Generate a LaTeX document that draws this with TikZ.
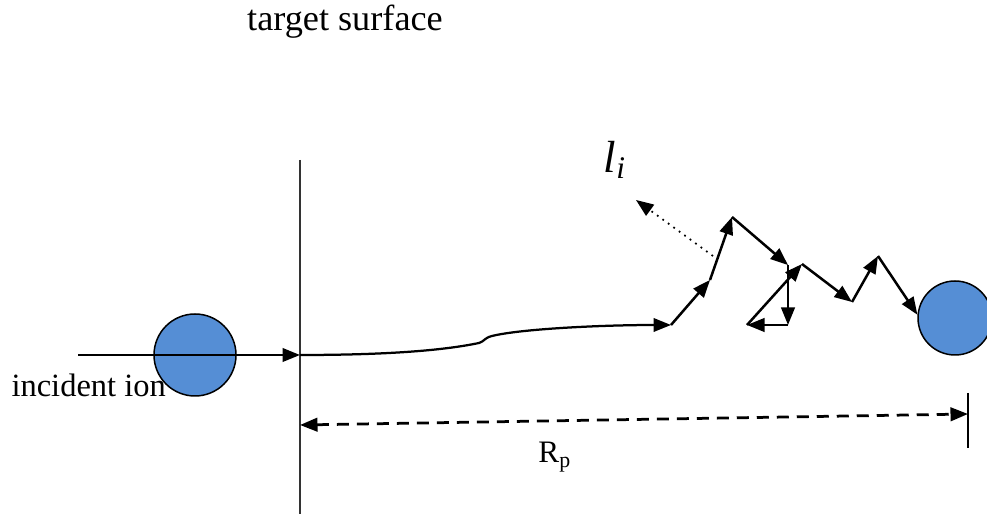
\documentclass[tikz,border=0pt]{standalone}
\usepackage{fontspec}
\setmainfont{Liberation Serif}
\usetikzlibrary{arrows.meta, positioning}
\definecolor{ionblue}{RGB}{85, 142, 213}

\begin{document}
\begin{tikzpicture}[
    x=0.4pt, y=-0.4pt,
    >={Triangle[length=7pt, width=5.4pt]},
    ion/.style={circle, draw=black, line width=0.6pt, fill=ionblue,
                minimum size=#1, inner sep=0pt},
    track/.style={->, line width=1pt},
    txt/.style={font=\fontsize{#1}{#1}\selectfont, inner sep=0pt}
]
    \useasboundingbox (0,0) rectangle (987,518);

    % ions
    \node[ion=32.8pt] (ion) at (195,355) {};
    \node[ion=29.6pt] (stopped) at (955,318) {};

    % surface
    \coordinate (top) at (300,160);
    \coordinate (bottom) at (300,514);
    \coordinate (src) at (78,355);
    \coordinate (entry) at (300,355);
    \draw[line width=0.7pt, black!80] (top) -- (bottom);
    \draw[track] (src) -- (entry);

    % collision cascade
    \coordinate (p1) at (671,325);
    \coordinate (p2) at (710,280);
    \coordinate (p3) at (732,217);
    \coordinate (p4) at (788,265);
    \coordinate (p5) at (788,325);
    \coordinate (p6) at (747,325);
    \coordinate (p7) at (802,264);
    \coordinate (p8) at (852,302);
    \coordinate (p9) at (878,256);
    \coordinate (p10) at (stopped.175);

    \draw[track, line width=0.9pt] (entry) .. controls (400,355) and (450,349) .. (479,343)
        .. controls (485,341) and (484,338) .. (492,336)
        .. controls (520,329) and (600,325) .. (p1);
    \foreach \a/\b in {p1/p2, p2/p3, p3/p4, p4/p5, p5/p6, p6/p7, p7/p8, p8/p9, p9/p10}
        \draw[track] (\a) -- (\b);

    % free path
    \coordinate (li-start) at (713,256);
    \coordinate (li-end) at (636,200);
    \draw[->, dotted, line width=0.7pt] (li-start) -- (li-end);
    \node[txt=18] (pathlen) at (615,160) {\textit{l}\textsubscript{\textit{i}}};

    % projected range
    \coordinate (dim-l) at (300,425);
    \coordinate (dim-r) at (968,414);
    \coordinate (rp-top) at (968,393);
    \coordinate (rp-bot) at (968,448);
    \draw[line width=0.8pt] (rp-top) -- (rp-bot);
    \draw[<->, dash pattern=on 4.8pt off 3.2pt, line width=1.1pt] (dim-l) -- (dim-r);

    % labels
    \node[txt=14.5] (surface) at (345,22) {target surface};
    \node[txt=13, anchor=base west] (incident) at (11,397) {incident ion};
    \node[txt=12.5] (range) at (555,457) {R\textsubscript{p}};
\end{tikzpicture}
\end{document}
